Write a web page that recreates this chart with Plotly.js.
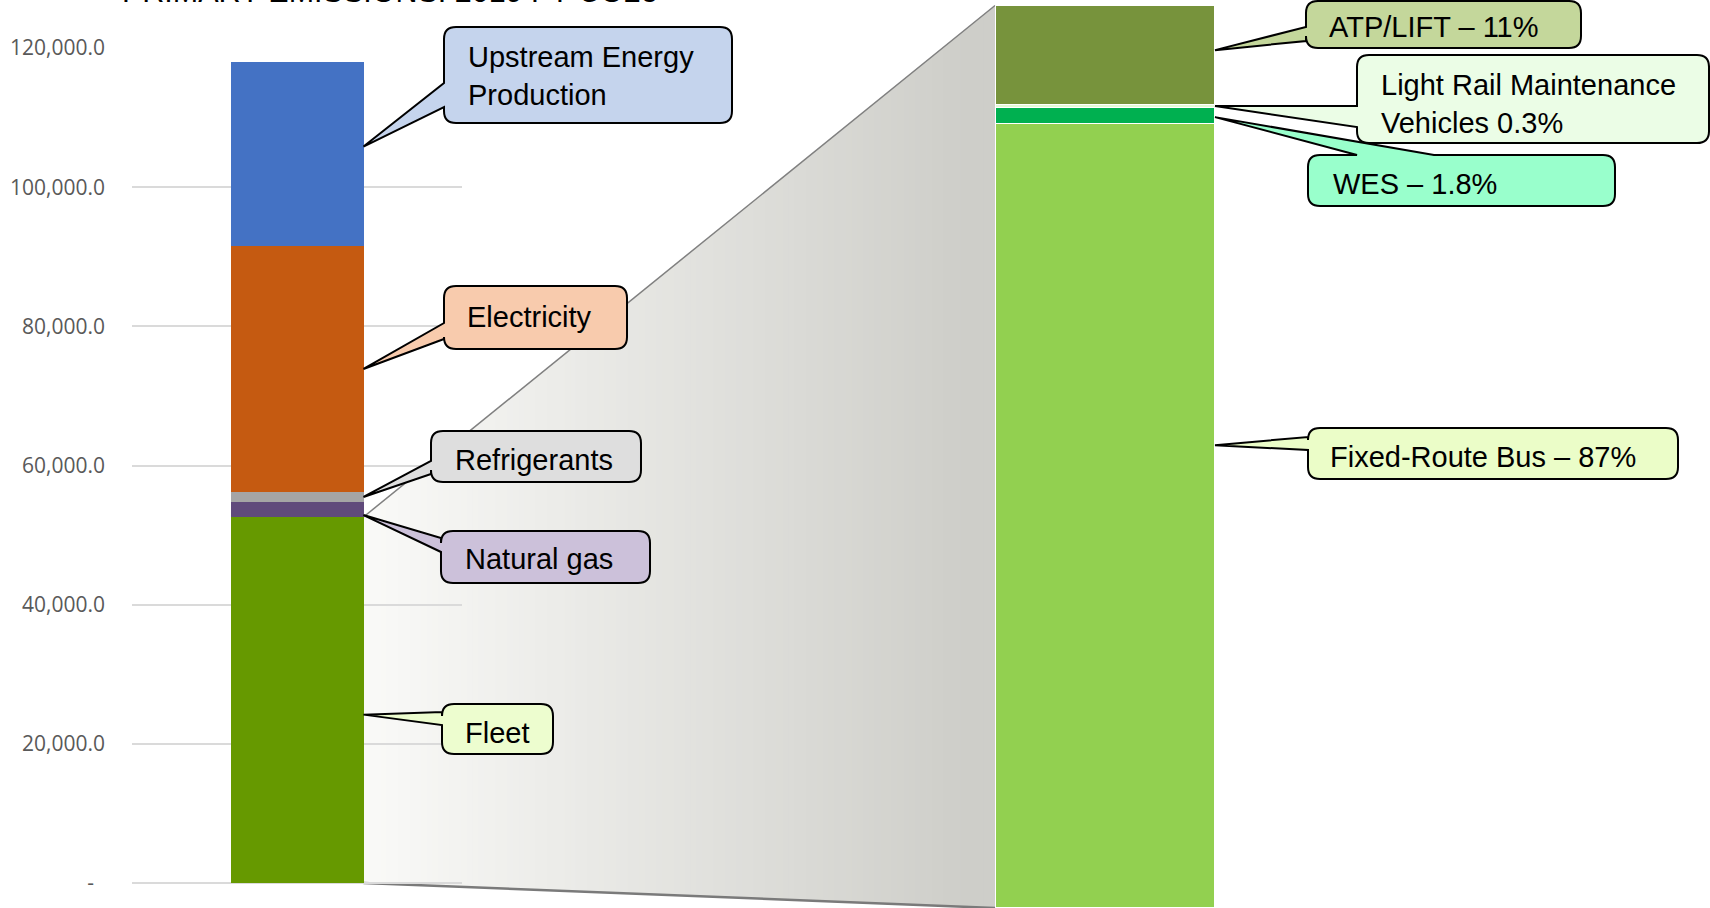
<!DOCTYPE html>
<html>
<head>
<meta charset="utf-8">
<script src="https://cdn.plot.ly/plotly-3.0.1.min.js"></script>
<style>
  html, body { margin: 0; padding: 0; background: #ffffff; }
  #chart { width: 1710px; height: 908px; }
</style>
</head>
<body>
<div id="chart"></div>
<script>
// ---------------- DATA ----------------
const chartTitle = 'PRIMARY EMISSIONS: 2019 FY CO2e';
const leftCategory = ['FY 2019'];
const leftNames = ['Fleet', 'Natural gas', 'Refrigerants', 'Electricity', 'Upstream Energy Production'];
const leftValues = [52600, 2150, 1450, 35350, 26450];
const leftLabels = ['Fleet', 'Natural gas', 'Refrigerants', 'Electricity', 'Upstream Energy<br>Production'];

const rightCategory = ['Fleet'];
const rightNames = ['Fixed-Route Bus', 'WES', 'Light Rail Maintenance Vehicles', 'ATP/LIFT'];
const rightValues = [87, 1.8, 0.3, 11];
const rightLabels = ['Fixed-Route Bus – 87%', 'WES – 1.8%', 'Light Rail Maintenance<br>Vehicles 0.3%', 'ATP/LIFT – 11%'];

const yTickValues = [0, 20000, 40000, 60000, 80000, 100000, 120000];
const yTickLabels = ['-\u00a0\u00a0', '20,000.0', '40,000.0', '60,000.0', '80,000.0', '100,000.0', '120,000.0'];

// ---------------- STYLE / GEOMETRY ----------------
const W = 1710, H = 908;
const leftColors = ['#669900', '#604a7b', '#a5a5a5', '#c55a11', '#4472c4'];
const rightColors = ['#92d050', '#00b050', '#e2fbd6', '#77933c'];

const L_X0 = 132, L_X1 = 462, L_Y0 = 883, L_Y1 = 48, L_BARW = 0.403;
const L_RANGE = [0, 120000];
const R_X0 = 995, R_X1 = 1215, R_Y0 = 908, R_Y1 = 5.5, R_BARW = 1;
const rTotal = rightValues.reduce((a, b) => a + b, 0);
const R_RANGE = [0, rTotal];

const FONT = 'Liberation Sans, Arial, sans-serif';

// pixel helpers derived from axis geometry
const leftYpx = v => L_Y0 - (v - L_RANGE[0]) / (L_RANGE[1] - L_RANGE[0]) * (L_Y0 - L_Y1);
const rightYpx = v => R_Y0 - (v - R_RANGE[0]) / (R_RANGE[1] - R_RANGE[0]) * (R_Y0 - R_Y1);
const leftBarRight = L_X0 + (0.5 + L_BARW / 2) * (L_X1 - L_X0);
const rightBarLeft = R_X0 + (0.5 - R_BARW / 2) * (R_X1 - R_X0);
const rightBarRight = R_X0 + (0.5 + R_BARW / 2) * (R_X1 - R_X0);
const P = (x, y) => (x / W).toFixed(5) + ',' + (1 - y / H).toFixed(5);

function cum(vals) { const out = []; let s = 0; vals.forEach(v => { out.push(s); s += v; }); return out; }
const leftBase = cum(leftValues);
const rightBase = cum(rightValues);

// ---------------- TRACES ----------------
const traces = [];
leftNames.forEach((n, i) => traces.push({
  type: 'bar', x: leftCategory, y: [leftValues[i]], name: n, width: L_BARW,
  marker: { color: leftColors[i], line: { width: 0 } }, xaxis: 'x', yaxis: 'y'
}));
rightNames.forEach((n, i) => traces.push({
  type: 'bar', x: rightCategory, y: [rightValues[i]], name: n, width: R_BARW,
  marker: { color: rightColors[i], line: { color: '#ffffff', width: 1.5 } }, xaxis: 'x2', yaxis: 'y2'
}));

// ---------------- SHAPES ----------------
const shapes = [];
// zoom wedge with horizontal gradient (strips)
const topL = leftYpx(leftValues[0]), topR = rightYpx(rTotal);
const botL = leftYpx(0), botR = rightYpx(0);
const xL = leftBarRight, xR = rightBarLeft;
const edgeY = (a, b, x) => a + (b - a) * (x - xL) / (xR - xL);
const c0 = [250, 250, 248], c1 = [206, 206, 201];
const N = 110, dx = (xR - xL) / N;
for (let k = 0; k < N; k++) {
  const xa = xL + k * dx, xb = Math.min(xR, xa + dx + 0.8);
  const t = Math.min(1, Math.max(0, ((xa + dx / 2) - xL) / (965 - xL)));
  const col = c0.map((c, j) => Math.round(c + (c1[j] - c) * t));
  shapes.push({
    type: 'path', xref: 'paper', yref: 'paper', layer: 'below',
    path: 'M' + P(xa, edgeY(topL, topR, xa)) + 'L' + P(xb, edgeY(topL, topR, xb)) +
          'L' + P(xb, edgeY(botL, botR, xb)) + 'L' + P(xa, edgeY(botL, botR, xa)) + 'Z',
    fillcolor: 'rgb(' + col.join(',') + ')', line: { width: 0 }
  });
}
shapes.push({ type: 'line', xref: 'paper', yref: 'paper', layer: 'below',
  x0: xL / W, y0: 1 - topL / H, x1: xR / W, y1: 1 - topR / H, line: { color: '#808080', width: 1.5 } });
shapes.push({ type: 'line', xref: 'paper', yref: 'paper', layer: 'below',
  x0: xL / W, y0: 1 - botL / H, x1: xR / W, y1: 1 - botR / H, line: { color: '#7a7a7a', width: 2.5 } });

// callouts
const callouts = [
  { side: 'L', idx: 4, frac: 0.54, box: [444, 27, 732, 123], tail: 'left', base: [83, 107], tx: 466, ty: 76, fill: '#c5d4ed' },
  { side: 'L', idx: 3, frac: 0.50, box: [444, 286, 627, 349], tail: 'left', base: [323, 339], tx: 465, ty: 317, fill: '#f8cbad' },
  { side: 'L', idx: 2, frac: 0.50, box: [431, 431, 641, 482], tail: 'left', base: [461, 474], tx: 453, ty: 460, fill: '#dedede' },
  { side: 'L', idx: 1, frac: 0.13, box: [441, 531, 650, 583], tail: 'left', base: [538, 552], tx: 463, ty: 559, fill: '#ccc1da' },
  { side: 'L', idx: 0, frac: 0.46, box: [442, 704, 553, 754], tail: 'left', base: [712, 725], tx: 463, ty: 733, fill: '#edfdcf' },
  { side: 'R', idx: 3, frac: 0.55, box: [1306, 1, 1581, 48], tail: 'left', base: [27, 41], tx: 1327, ty: 27, fill: '#c4d79b' },
  { side: 'R', idx: 2, frac: 0.50, box: [1357, 55, 1709, 143], tail: 'left', base: [106, 127], tx: 1379, ty: 104, fill: '#ebfde6' },
  { side: 'R', idx: 1, frac: 0.40, box: [1308, 155, 1615, 206], tail: 'top', base: [1357, 1434], tx: 1331, ty: 184, fill: '#99ffcc' },
  { side: 'R', idx: 0, frac: 0.59, box: [1308, 428, 1678, 479], tail: 'left', base: [437, 450], tx: 1328, ty: 457, fill: '#ebfdc8' }
];

const annotations = [];
callouts.forEach(c => {
  let tipX, tipY, label;
  if (c.side === 'L') {
    tipX = leftBarRight;
    tipY = leftYpx(leftBase[c.idx] + c.frac * leftValues[c.idx]);
    label = leftLabels[c.idx];
  } else {
    tipX = rightBarRight;
    tipY = rightYpx(rightBase[c.idx] + c.frac * rightValues[c.idx]);
    label = rightLabels[c.idx];
  }
  const [x0, y0, x1, y1] = c.box, r = 12;
  let d = 'M' + P(x0 + r, y0);
  if (c.tail === 'top') d += 'L' + P(c.base[0], y0) + 'L' + P(tipX, tipY) + 'L' + P(c.base[1], y0);
  d += 'L' + P(x1 - r, y0) + 'Q' + P(x1, y0) + ' ' + P(x1, y0 + r);
  d += 'L' + P(x1, y1 - r) + 'Q' + P(x1, y1) + ' ' + P(x1 - r, y1);
  d += 'L' + P(x0 + r, y1) + 'Q' + P(x0, y1) + ' ' + P(x0, y1 - r);
  if (c.tail === 'left') d += 'L' + P(x0, c.base[1]) + 'L' + P(tipX, tipY) + 'L' + P(x0, c.base[0]);
  d += 'L' + P(x0, y0 + r) + 'Q' + P(x0, y0) + ' ' + P(x0 + r, y0) + 'Z';
  shapes.push({ type: 'path', xref: 'paper', yref: 'paper', layer: 'above', path: d,
    fillcolor: c.fill, line: { color: '#000000', width: 2 } });
  annotations.push({ xref: 'paper', yref: 'paper', x: c.tx / W, y: 1 - c.ty / H,
    xanchor: 'left', yanchor: 'middle', align: 'left', showarrow: false, text: label,
    font: { family: FONT, size: 29, color: '#000000' } });
});

// title (mostly cropped above the top edge, as in the source)
annotations.push({ xref: 'paper', yref: 'paper', x: 120 / W, y: 1 + 9 / H, xanchor: 'left', yanchor: 'middle',
  showarrow: false, text: chartTitle, font: { family: FONT, size: 30.5, color: '#000000' } });

// ---------------- LAYOUT ----------------
const layout = {
  width: W, height: H,
  margin: { l: 0, r: 0, t: 0, b: 0, pad: 0 },
  paper_bgcolor: '#ffffff', plot_bgcolor: 'rgba(0,0,0,0)',
  barmode: 'stack', bargap: 0, showlegend: false,
  xaxis: { domain: [L_X0 / W, L_X1 / W], type: 'category', range: [-0.5, 0.5], visible: false, anchor: 'y', fixedrange: true },
  yaxis: { domain: [(H - L_Y0) / H, (H - L_Y1) / H], range: L_RANGE, anchor: 'x',
    tickmode: 'array', tickvals: yTickValues, ticktext: yTickLabels,
    showgrid: true, gridcolor: '#dadada', gridwidth: 2,
    zeroline: true, zerolinecolor: '#dadada', zerolinewidth: 2,
    showline: false, ticks: '', ticklabelstandoff: 26,
    tickfont: { family: 'Open Sans, DejaVu Sans, sans-serif', size: 21, color: '#595959' }, fixedrange: true },
  xaxis2: { domain: [R_X0 / W, R_X1 / W], type: 'category', range: [-0.5, 0.5], visible: false, anchor: 'y2', fixedrange: true },
  yaxis2: { domain: [(H - R_Y0) / H, (H - R_Y1) / H], range: R_RANGE, visible: false, anchor: 'x2', fixedrange: true },
  shapes: shapes,
  annotations: annotations
};

Plotly.newPlot('chart', traces, layout, { displayModeBar: false, staticPlot: true });
</script>
</body>
</html>
